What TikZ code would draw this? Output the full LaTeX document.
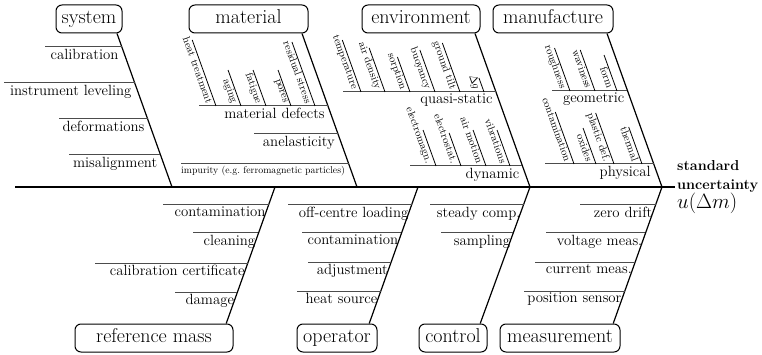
\documentclass[tikz,border=0pt]{standalone}
\usetikzlibrary{calc}
\begin{document}
\begin{tikzpicture}[x=1pt,y=-1pt,
  spine/.style={line width=2pt},
  bone/.style={line width=1.2pt},
  rib/.style={line width=1pt, black!70},
  twig/.style={line width=0.8pt},
  cause/.style={draw, rounded corners=6pt, line width=1pt, minimum height=28pt,
    inner xsep=4pt, inner ysep=0pt, text height=13.5pt, text depth=4pt,
    font=\fontsize{20}{24}\selectfont},
  lbl/.style={font=\fontsize{14.8}{17}\selectfont, inner xsep=1pt, inner ysep=2pt, anchor=north east},
  minor/.style={font=\fontsize{9.8}{12}\selectfont, inner sep=1pt},
  twiglbl/.style={font=\fontsize{10.6}{12}\selectfont, inner sep=1pt, rotate=-70.2, anchor=north east},
]
\useasboundingbox (0,0) rectangle (762,355);

% backbone and effect
\coordinate (tail) at (15,187);
\node[anchor=west, align=left, inner sep=2pt, font=\fontsize{14.4}{19}\selectfont] (effect) at (675,187)
  {\textbf{standard}\\\textbf{uncertainty}\\{\fontsize{21.5}{19}\selectfont$u(\Delta m)$}};
\draw[spine] (tail) -- (effect.west);

% main cause boxes
\node[cause, minimum width=66pt]  (system)      at (89,19)    {system};
\node[cause, minimum width=119pt] (material)    at (248.5,19) {material};
\node[cause, minimum width=118pt] (environment) at (421,19)   {environment};
\node[cause, minimum width=120pt] (manufacture) at (553,19)   {manufacture};
\node[cause, minimum width=158pt] (refmass)     at (154,338)  {reference mass};
\node[cause, minimum width=80pt]  (operator)    at (337,338)  {operator};
\node[cause, minimum width=68pt]  (control)     at (453,338)  {control};
\node[cause, minimum width=120pt] (measurement) at (560,338)  {measurement};

% where the bones meet the backbone
\coordinate (jsys) at (172,187);
\coordinate (jmat) at (357,187);
\coordinate (jenv) at (530,187);
\coordinate (jman) at (662,187);
\coordinate (jref) at (275,187);
\coordinate (jope) at (418,187);
\coordinate (jcon) at (530,187);
\coordinate (jmea) at (662,187);

\draw[bone] (jsys) -- ([xshift=-5.5pt]system.south east);
\draw[bone] (jmat) -- ([xshift=-6.5pt]material.south east);
\draw[bone] (jenv) -- ([xshift=-5.5pt]environment.south east);
\draw[bone] (jman) -- ([xshift=-6.5pt]manufacture.south east);
\draw[bone] (jref) -- ([xshift=-7.3pt]refmass.north east);
\draw[bone] (jope) -- ([xshift=-8.3pt]operator.north east);
\draw[bone] (jcon) -- ([xshift=-7.3pt]control.north east);
\draw[bone] (jmea) -- ([xshift=-7.3pt]measurement.north east);

% ribs above the backbone: y / left end / text  (right end lies on the bone)
\foreach \y/\l/\lab in {47/45/calibration, 83/4/instrument leveling,
    119/59/deformations, 155/69/misalignment}{
  \pgfmathsetmacro\xb{172-0.36*(187-\y)}
  \draw[rib] (\l,\y) -- (\xb,\y);
  \node[lbl] at (\xb-2,\y) {\lab};
}
\foreach \y/\l/\lab in {106/199/material defects, 134/254/anelasticity}{
  \pgfmathsetmacro\xb{357-0.36*(187-\y)}
  \draw[rib] (\l,\y) -- (\xb,\y);
  \node[lbl] at (\xb-2,\y) {\lab};
}
\pgfmathsetmacro\xb{357-0.36*(187-164)}
\draw[rib] (181,164) -- (\xb,164);
\node[minor, anchor=north east] (impurity) at (\xb-2.5,165) {impurity (e.g.\ ferromagnetic particles)};
\foreach \y/\l/\lab in {92/343/quasi-static, 166/410/dynamic}{
  \pgfmathsetmacro\xb{530-0.36*(187-\y)}
  \draw[rib] (\l,\y) -- (\xb,\y);
  \node[lbl] at (\xb-2,\y) {\lab};
}
\foreach \y/\l/\lab in {91/552/geometric, 164/545/physical}{
  \pgfmathsetmacro\xb{662-0.36*(187-\y)}
  \draw[rib] (\l,\y) -- (\xb,\y);
  \node[lbl] at (\xb-2,\y) {\lab};
}

% ribs below the backbone
\foreach \y/\l/\lab in {205/163/contamination, 233/193/cleaning,
    263/95/calibration certificate, 292/175/damage}{
  \pgfmathsetmacro\xb{275-0.36*(\y-187)}
  \draw[rib] (\l,\y) -- (\xb,\y);
  \node[lbl] at (\xb-2,\y) {\lab};
}
\foreach \y/\l/\lab in {205/288/off-centre loading, 233/302/contamination,
    262/308/adjustment, 291/297/heat source}{
  \pgfmathsetmacro\xb{418-0.36*(\y-187)}
  \draw[rib] (\l,\y) -- (\xb,\y);
  \node[lbl] at (\xb-2,\y) {\lab};
}
\foreach \y/\l/\lab in {205/430/steady comp., 233/441/sampling}{
  \pgfmathsetmacro\xb{530-0.36*(\y-187)}
  \draw[rib] (\l,\y) -- (\xb,\y);
  \node[lbl] at (\xb-2,\y) {\lab};
}
\foreach \y/\l/\lab in {205/580/zero drift, 233/546/voltage meas.,
    262/535/current meas., 291/524/position sensor}{
  \pgfmathsetmacro\xb{662-0.36*(\y-187)}
  \draw[rib] (\l,\y) -- (\xb,\y);
  \node[lbl] at (\xb-2,\y) {\lab};
}

% slanted twigs on the ribs: foot x / top y / text
\foreach \yl/\list in {
    106/{216/40/heat treatment, 241/70/aging, 266/70/fatigue, 291/70/pores, 315/42/residual stress},
    92/{361/40/temperature, 385/48/air density, 410/57/sorption, 435/50/buoyancy, 460/43/ground tilt, 484/78/$\Delta g$},
    166/{436/130/electromagn., 461/133/electrostat., 486/130/air motion, 510/130/vibrations},
    91/{570/48/roughness, 595/50/waviness, 617/55/form},
    164/{574/112/contamination, 596/128/oxides, 614/113/plastic def., 642/127/thermal}}{
  \foreach \xf/\yt/\lab in \list {
    \pgfmathsetmacro\xt{\xf-0.36*(\yl-\yt)}
    \coordinate (foot) at (\xf,\yl);
    \coordinate (tip) at (\xt,\yt);
    \draw[twig] (foot) -- (tip);
    \node[twiglbl] at ($(foot)!4pt!(tip)$) {\lab};
  }
}
\end{tikzpicture}
\end{document}
